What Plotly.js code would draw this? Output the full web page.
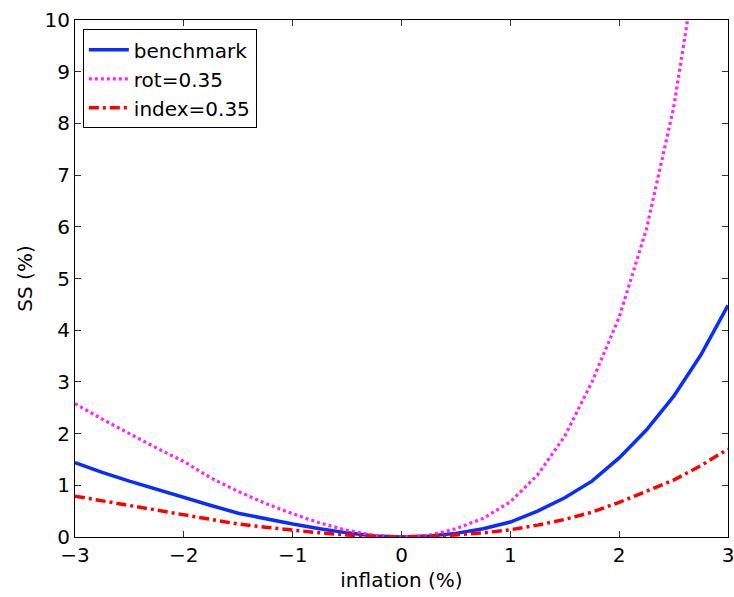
<!DOCTYPE html>
<html>
<head>
<meta charset="utf-8">
<script src="https://cdn.plot.ly/plotly-3.0.1.min.js"></script>
<style>html,body{margin:0;padding:0;background:#fff;}#chart{width:734px;height:597px;}</style>
</head>
<body>
<div id="chart"></div>
<script>
const inflation = [-3,-2.75,-2.5,-2.25,-2,-1.75,-1.5,-1.25,-1,-0.75,-0.5,-0.25,0,0.25,0.5,0.75,1,1.25,1.5,1.75,2,2.25,2.5,2.75,3];
const benchmark = [1.44,1.25,1.08,0.92,0.77,0.61,0.46,0.35,0.25,0.16,0.08,0.02,0,0.02,0.07,0.16,0.29,0.5,0.76,1.08,1.53,2.07,2.72,3.52,4.48];
const rot035 = [2.58,2.28,2.0,1.72,1.46,1.14,0.88,0.65,0.45,0.27,0.13,0.03,0,0.03,0.16,0.36,0.68,1.2,1.95,3.0,4.25,5.95,8.3,11.6,16.0];
const index035 = [0.79,0.7,0.61,0.52,0.42,0.33,0.25,0.19,0.13,0.08,0.04,0.01,0,0.01,0.04,0.08,0.14,0.23,0.34,0.48,0.67,0.88,1.1,1.38,1.7];
const seriesNames = ["benchmark","rot=0.35","index=0.35"];
const xTicks = [-3,-2,-1,0,1,2,3];
const xTickText = ["\u22123","\u22122","\u22121","0","1","2","3"];
const yTicks = [0,1,2,3,4,5,6,7,8,9,10];

const font = "DejaVu Sans, sans-serif";
const traces = [
  {x: inflation, y: benchmark, name: seriesNames[0], mode: "lines",
   line: {color: "#0a2cff", width: 3.5}},
  {x: inflation, y: rot035, name: seriesNames[1], mode: "lines",
   line: {color: "#ff22ff", width: 3.2, dash: "3px,3px"}},
  {x: inflation, y: index035, name: seriesNames[2], mode: "lines",
   line: {color: "#ff0000", width: 3.5, dash: "10px,4px,3px,4px"}}
];
const axisCommon = {
  showgrid: false, zeroline: false, showline: true, linecolor: "#000", linewidth: 1,
  mirror: "ticks", ticks: "inside", ticklen: 6, tickcolor: "#333", tickwidth: 1,
  ticklabeloverflow: "allow",
  tickfont: {family: font, size: 20, color: "#000"}
};
const layout = {
  width: 734, height: 597,
  margin: {l: 75, r: 6, t: 20, b: 60},
  paper_bgcolor: "#fff", plot_bgcolor: "#fff",
  font: {family: font, color: "#000"},
  xaxis: Object.assign({}, axisCommon, {
    range: [-3, 3], tickvals: xTicks, ticktext: xTickText,
    title: {text: "inflation (%)", font: {family: font, size: 20, color: "#000"}, standoff: 6}
  }),
  yaxis: Object.assign({}, axisCommon, {
    range: [0, 10], tickvals: yTicks,
    title: {text: "SS (%)", font: {family: font, size: 20, color: "#000"}, standoff: 6}
  }),
  showlegend: true,
  legend: {x: 0.012, y: 0.982, xanchor: "left", yanchor: "top",
    bgcolor: "#fff", bordercolor: "#000", borderwidth: 1,
    font: {family: font, size: 20, color: "#000"}, itemwidth: 40, tracegroupgap: 0}
};
Plotly.newPlot("chart", traces, layout, {displayModeBar: false, staticPlot: true});
</script>
</body>
</html>
